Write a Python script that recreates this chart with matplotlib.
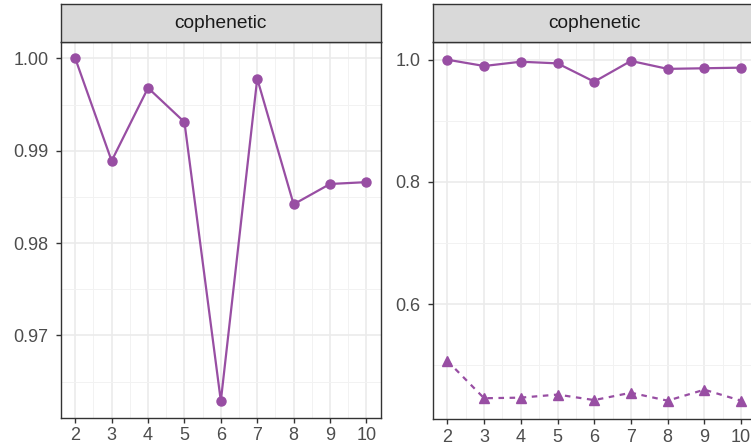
import numpy as np
import matplotlib.pyplot as plt

# valores
rank = [2, 3, 4, 5, 6, 7, 8, 9, 10]
coph_left = [1.000, 0.9889, 0.9968, 0.9931, 0.9629, 0.9978, 0.9842, 0.9864, 0.9866]
coph_right = [1.000, 0.9897, 0.9967, 0.9940, 0.9640, 0.9980, 0.9850, 0.9860, 0.9870]
coph_random = [0.507, 0.446, 0.447, 0.452, 0.443, 0.455, 0.442, 0.460, 0.442]

left_yticks = [0.97, 0.98, 0.99, 1.00]
left_ylabels = ["0.97", "0.98", "0.99", "1.00"]
right_yticks = [0.6, 0.8, 1.0]
right_ylabels = ["0.6", "0.8", "1.0"]
strip_label = "cophenetic"

purple = "#984EA3"
dark = "#333333"

plt.rcParams["font.family"] = ["Liberation Sans", "DejaVu Sans"]

fig = plt.figure(figsize=(7.51, 4.48), dpi=100)


def panel(rect, strip_rect, ylim, yticks, ylabels, yminor):
    ax = fig.add_axes(rect)
    ax.set_xlim(1.6, 10.4)
    ax.set_ylim(*ylim)
    ax.set_xticks(rank)
    ax.set_xticks(np.arange(2.5, 10, 1), minor=True)
    ax.set_yticks(yticks)
    ax.set_yticklabels(ylabels)
    ax.set_yticks(yminor, minor=True)
    ax.grid(True, which="major", color="#EBEBEB", lw=1.2, zorder=0)
    ax.grid(True, which="minor", color="#F2F2F2", lw=0.7, zorder=0)
    ax.set_axisbelow(True)
    for s in ax.spines.values():
        s.set_color(dark)
        s.set_linewidth(1.0)
    ax.tick_params(which="major", length=3.6, width=1.0, color=dark,
                   labelcolor="#4D4D4D", labelsize=13)
    ax.tick_params(axis="y", pad=5.2)
    ax.tick_params(axis="x", pad=3.3)
    ax.tick_params(which="minor", length=0)

    st = fig.add_axes(strip_rect)
    st.set_facecolor("#D9D9D9")
    st.set_xticks([])
    st.set_yticks([])
    for s in st.spines.values():
        s.set_color(dark)
        s.set_linewidth(1.0)
    st.text(0.5, 0.48, strip_label, ha="center", va="center",
            fontsize=13.8, color="#1A1A1A", transform=st.transAxes)
    return ax


ax1 = panel([0.0808, 0.0676, 0.4265, 0.8393], [0.0808, 0.9069, 0.4265, 0.0842],
            (0.9611, 1.0018), left_yticks, left_ylabels,
            [0.965, 0.975, 0.985, 0.995])
ax1.plot(rank, coph_left, color=purple, lw=1.6, marker="o", ms=6.5,
         zorder=3)

ax2 = panel([0.5762, 0.0640, 0.4301, 0.8416], [0.5762, 0.9056, 0.4301, 0.0855],
            (0.4115, 1.0285), right_yticks, right_ylabels, [0.5, 0.7, 0.9])
ax2.plot(rank, coph_right, color=purple, lw=1.6, marker="o", ms=6.5,
         zorder=3)
ax2.plot(rank, coph_random, color=purple, lw=1.6, ls=(0, (2.5, 2.5)),
         marker="^", ms=7.5, zorder=3)

fig.savefig("out.png", dpi=100)
